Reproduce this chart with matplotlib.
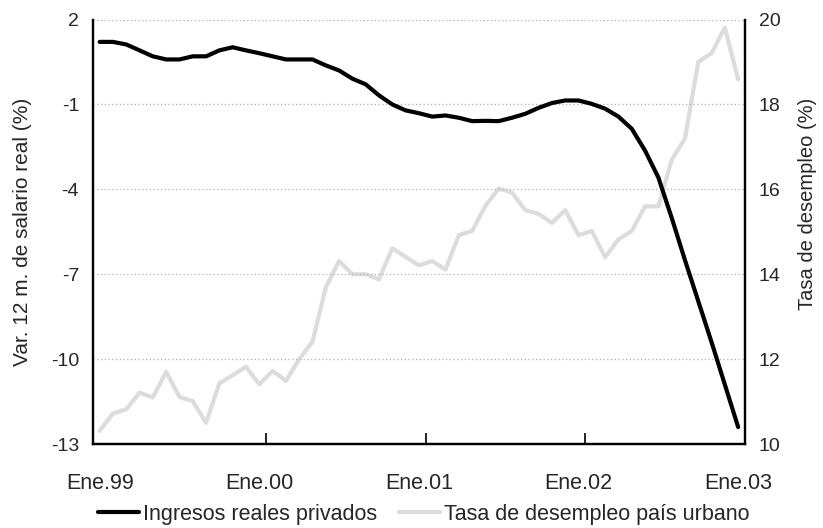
import matplotlib
matplotlib.use("Agg")
import matplotlib.pyplot as plt

# ---- data (monthly, Jan 1999 .. Jan 2003) ----
salario_real = [1.21, 1.21, 1.12, 0.91, 0.70, 0.59, 0.59, 0.70, 0.70, 0.91,
                1.02, 0.91, 0.81, 0.70, 0.59, 0.59, 0.59, 0.38, 0.20, -0.09,
                -0.29, -0.68, -1.00, -1.21, -1.31, -1.43, -1.39, -1.47, -1.59, -1.58,
                -1.59, -1.47, -1.33, -1.12, -0.95, -0.86, -0.86, -0.98, -1.15, -1.43,
                -1.86, -2.63, -3.58, -5.00, -6.50, -7.95, -9.40, -10.90, -12.40]
desempleo = [10.31, 10.72, 10.82, 11.21, 11.10, 11.70, 11.11, 11.01, 10.50, 11.43,
             11.62, 11.82, 11.41, 11.72, 11.49, 12.00, 12.41, 13.69, 14.31, 14.00,
             14.00, 13.88, 14.61, 14.41, 14.21, 14.31, 14.11, 14.92, 15.02, 15.61,
             16.02, 15.92, 15.51, 15.42, 15.21, 15.51, 14.92, 15.02, 14.40, 14.82,
             15.02, 15.60, 15.60, 16.69, 17.20, 19.00, 19.21, 19.81, 18.59]
x_labels = ["Ene.99", "Ene.00", "Ene.01", "Ene.02", "Ene.03"]
x_label_pos = [0, 12, 24, 36, 48]
left_ticks = [-13, -10, -7, -4, -1, 2]
right_ticks = [10, 12, 14, 16, 18, 20]
serie1 = "Ingresos reales privados"
serie2 = "Tasa de desempleo país urbano"

plt.rcParams['font.family'] = ['Liberation Sans', 'DejaVu Sans']
plt.rcParams['axes.unicode_minus'] = False
txt = '#262626'

fig = plt.figure(figsize=(8.23, 5.28), dpi=100)
ax = fig.add_axes([0.113, 0.159, 0.792, 0.804])
ax2 = ax.twinx()

x = list(range(len(salario_real)))

l2, = ax2.plot(x, desempleo, color='#dcdcdc', lw=3.0, solid_joinstyle='round',
               solid_capstyle='round')
l1, = ax.plot(x, salario_real, color='black', lw=3.0, solid_joinstyle='round',
              solid_capstyle='round')
ax.set_zorder(ax2.get_zorder() + 1)
ax.patch.set_visible(False)

ax.set_xlim(-0.5, 48.5)
ax.set_ylim(-13, 2)
ax2.set_ylim(10, 20)
ax.set_yticks(left_ticks)
ax2.set_yticks(right_ticks)
ax.set_xticks(x_label_pos)
ax.set_xticklabels(x_labels)
ax.set_xticks([12.5, 24.5, 36.5], minor=True)

for a in (ax, ax2):
    a.spines['top'].set_visible(False)
    for s in ('left', 'right', 'bottom'):
        a.spines[s].set_linewidth(1.6)
        a.spines[s].set_color('black')

ax.tick_params(axis='x', which='major', length=0, pad=21, labelsize=15.5, labelcolor=txt)
ax.tick_params(axis='x', which='minor', direction='in', length=8, width=1.2, color='black')
ax.tick_params(axis='y', length=0, pad=10, labelsize=14, labelcolor=txt)
ax2.tick_params(axis='y', length=0, pad=10, labelsize=14, labelcolor=txt)

for v in left_ticks[1:]:
    ax.axhline(v, color='#b0b0b0', lw=0.9, ls=(0, (1, 2)), zorder=0)

ax.set_ylabel("Var. 12 m. de salario real (%)", fontsize=15, color=txt)
ax.yaxis.set_label_coords(-0.094, 0.5)
ax2.set_ylabel("Tasa de desempleo (%)", fontsize=14.5, color=txt)
ax2.yaxis.set_label_coords(1.082, 0.565)

fig.legend([l1, l2], [serie1, serie2], loc='lower center',
           bbox_to_anchor=(424 / 823, -0.014), ncol=2, frameon=False,
           fontsize=15.5, handlelength=1.9, handletextpad=0.2, columnspacing=1.0,
           borderpad=0, labelcolor=txt)

fig.savefig("out.png", dpi=100)
